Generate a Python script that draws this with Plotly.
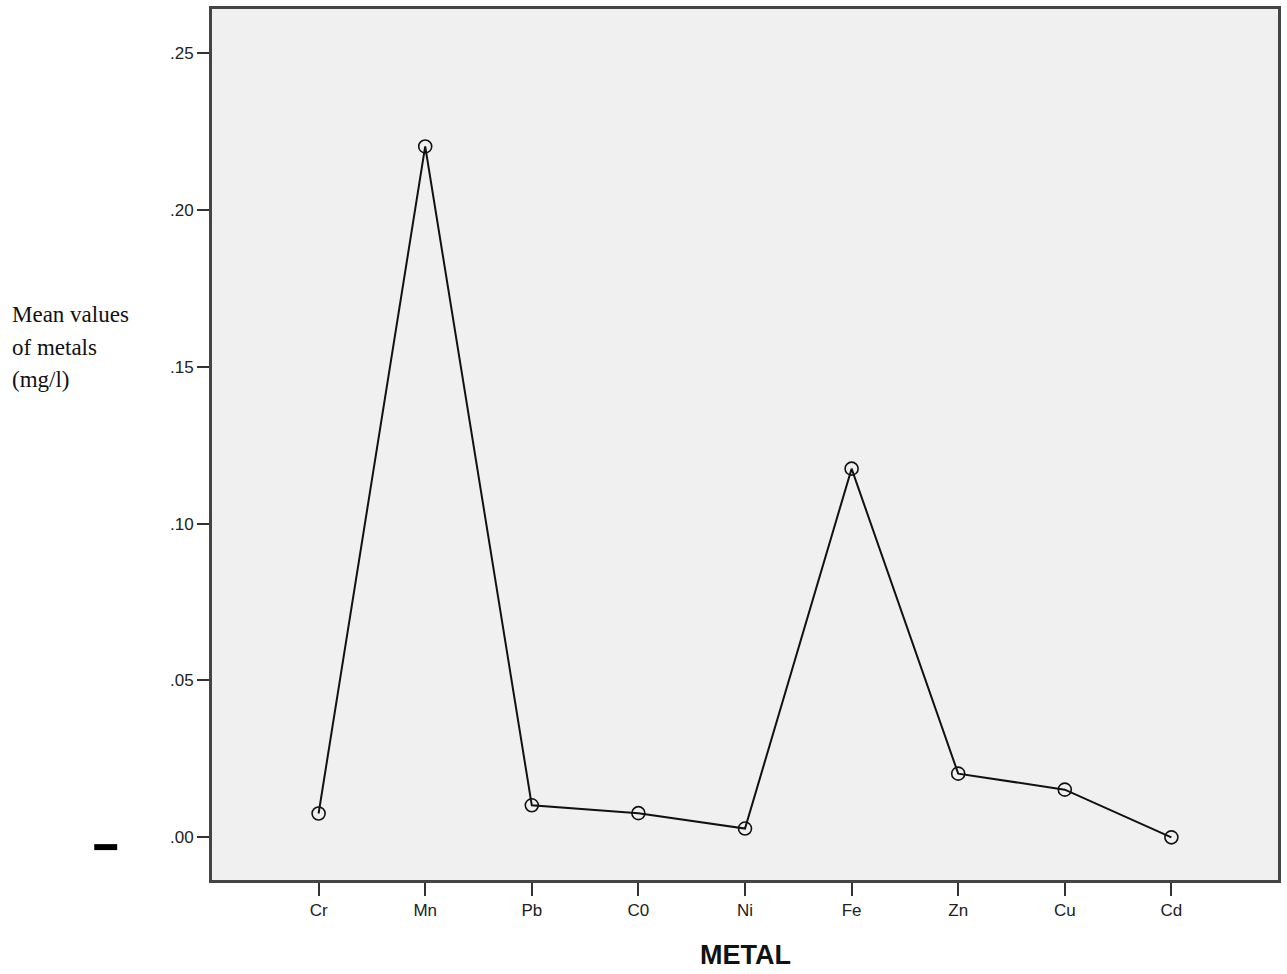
import plotly.graph_objects as go

metals = ["Cr", "Mn", "Pb", "C0", "Ni", "Fe", "Zn", "Cu", "Cd"]
mean_values = [0.0076, 0.2202, 0.0102, 0.0077, 0.0028, 0.1175, 0.0203, 0.0152, 0.0]
y_tick_vals = [0.0, 0.05, 0.10, 0.15, 0.20, 0.25]
y_tick_text = [".00", ".05", ".10", ".15", ".20", ".25"]
y_title_lines = ["Mean values", "of metals", "(mg/l)"]

W, H = 1287, 974
L, R, T, B = 212, 7, 6, 94
pw, ph = W - L - R, H - T - B

def px_x(p):
    return (p - L) / pw

def px_y(p):
    return 1 - (p - T) / ph

fig = go.Figure()
fig.add_trace(go.Scatter(
    x=list(range(len(metals))), y=mean_values, mode="lines+markers",
    line=dict(color="#111111", width=2),
    marker=dict(symbol="circle-open", size=13, color="#111111", line=dict(width=1.6)),
    showlegend=False, hoverinfo="x+y",
))

axis_common = dict(showline=True, linecolor="#444444", linewidth=3, mirror=True,
                   ticks="outside", tickcolor="#333333", tickwidth=2, showgrid=False,
                   zeroline=False, tickfont=dict(family="Liberation Sans, Arial", size=17, color="#222222"))

fig.update_layout(
    width=W, height=H,
    margin=dict(l=L, r=R, t=T, b=B),
    paper_bgcolor="white", plot_bgcolor="#f0f0f0",
    xaxis=dict(range=[-1, 9], tickvals=list(range(len(metals))), ticktext=metals,
               ticklen=13, **axis_common),
    yaxis=dict(range=[-0.0136, 0.264], tickvals=y_tick_vals, ticktext=y_tick_text,
               ticklen=12, **axis_common),
)

for i, line in enumerate(y_title_lines):
    fig.add_annotation(text=line, xref="paper", yref="paper", x=px_x(10), y=px_y(313 + 32.5 * i),
                       xanchor="left", yanchor="middle", showarrow=False,
                       font=dict(family="Liberation Serif, Times New Roman", size=23, color="#111111"))

fig.add_annotation(text="<b>METAL</b>", xref="paper", yref="paper", x=px_x(746), y=px_y(955),
                   xanchor="center", yanchor="middle", showarrow=False,
                   font=dict(family="Liberation Sans, Arial", size=27, color="#111111"))

fig.add_shape(type="rect", xref="paper", yref="paper", x0=px_x(94), x1=px_x(117),
              y0=px_y(850), y1=px_y(844), fillcolor="black", line=dict(width=0))

fig.write_html("out.html", config={"displayModeBar": False},
               post_script="document.body.style.margin='0px';")
